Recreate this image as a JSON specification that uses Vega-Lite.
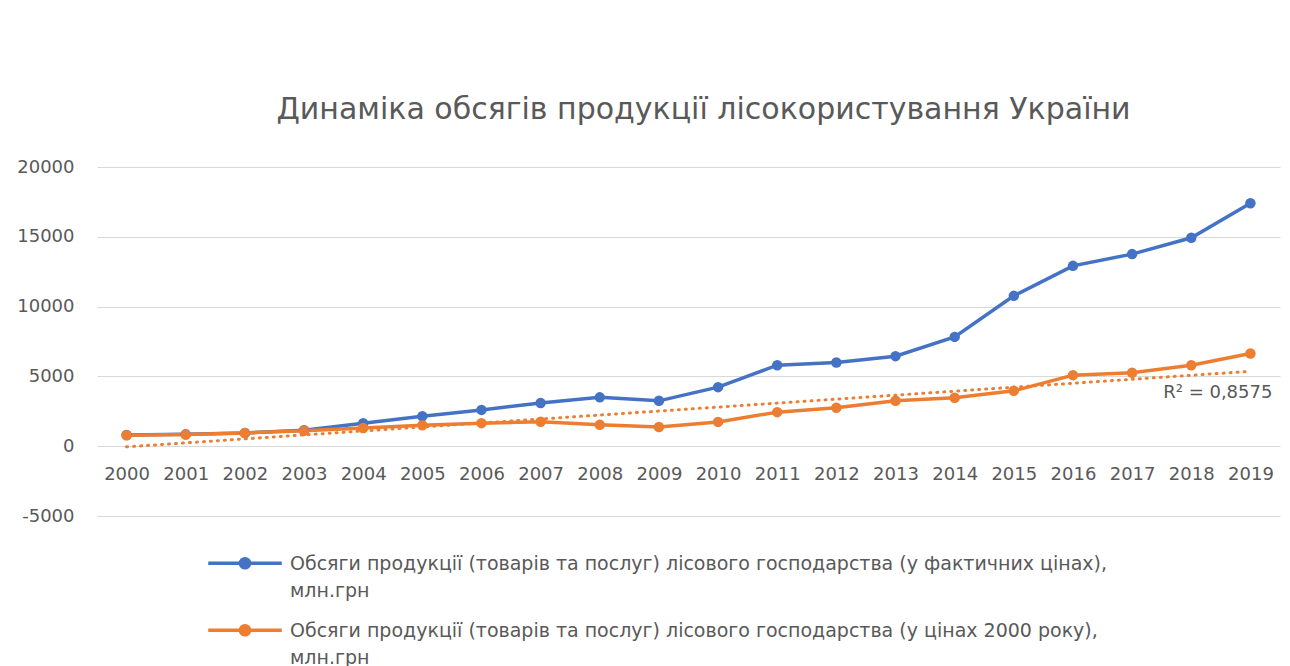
{
  "$schema": "https://vega.github.io/schema/vega-lite/v6.json",
  "autosize": {"type": "none"},
  "padding": {"left": 97, "top": 167, "right": 10, "bottom": 150},
  "width": 1183,
  "height": 349,
  "background": "white",
  "title": {
    "text": "Динаміка обсягів продукції лісокористування України",
    "font": "DejaVu Sans",
    "fontSize": 30,
    "fontWeight": "normal",
    "color": "#595959",
    "anchor": "middle",
    "offset": 33,
    "dx": 15
  },
  "data": {
    "values": [
      {"year": 2000, "fact": 800, "real": 780},
      {"year": 2001, "fact": 850, "real": 830},
      {"year": 2002, "fact": 950, "real": 950},
      {"year": 2003, "fact": 1150, "real": 1100},
      {"year": 2004, "fact": 1650, "real": 1300},
      {"year": 2005, "fact": 2150, "real": 1500},
      {"year": 2006, "fact": 2600, "real": 1650},
      {"year": 2007, "fact": 3100, "real": 1750},
      {"year": 2008, "fact": 3500, "real": 1530},
      {"year": 2009, "fact": 3250, "real": 1380},
      {"year": 2010, "fact": 4230, "real": 1740},
      {"year": 2011, "fact": 5800, "real": 2440},
      {"year": 2012, "fact": 6000, "real": 2750},
      {"year": 2013, "fact": 6450, "real": 3250},
      {"year": 2014, "fact": 7830, "real": 3470},
      {"year": 2015, "fact": 10770, "real": 3970},
      {"year": 2016, "fact": 12920, "real": 5090},
      {"year": 2017, "fact": 13760, "real": 5260},
      {"year": 2018, "fact": 14930, "real": 5800},
      {"year": 2019, "fact": 17400, "real": 6640}
    ]
  },
  "transform": [
    {"fold": ["fact", "real"], "as": ["series", "value"]}
  ],
  "encoding": {
    "x": {
      "field": "year",
      "type": "quantitative",
      "scale": {"domain": [1999.5, 2019.5], "nice": false, "zero": false},
      "axis": {
        "values": [2000,2001,2002,2003,2004,2005,2006,2007,2008,2009,2010,2011,2012,2013,2014,2015,2016,2017,2018,2019],
        "format": "d",
        "title": null,
        "grid": false,
        "domain": false,
        "ticks": false,
        "offset": -70,
        "labelPadding": 19,
        "labelFont": "DejaVu Sans",
        "labelFontSize": 18,
        "labelColor": "#595959",
        "labelFlush": false,
        "labelOverlap": false
      }
    },
    "y": {
      "field": "value",
      "type": "quantitative",
      "scale": {"domain": [-5000, 20000], "nice": false},
      "axis": {
        "values": [-5000, 0, 5000, 10000, 15000, 20000],
        "title": null,
        "labelExpr": "datum.value < 0 ? '-' + format(-datum.value, 'd') : format(datum.value, 'd')",
        "domain": false,
        "ticks": false,
        "labelPadding": 23,
        "labelFont": "DejaVu Sans",
        "labelFontSize": 18,
        "labelColor": "#595959",
        "gridColor": "#d9d9d9",
        "gridWidth": 1.2
      }
    }
  },
  "layer": [
    {
      "mark": {"type": "line", "strokeWidth": 3.5, "point": {"filled": true, "size": 110}},
      "encoding": {
        "color": {
          "field": "series",
          "type": "nominal",
          "scale": {"domain": ["fact", "real"], "range": ["#4472C4", "#ED7D31"]},
          "legend": {
            "orient": "none",
            "legendX": 146,
            "legendY": 368,
            "title": null,
            "direction": "vertical",
            "symbolType": "M-3.1,0.5H1.1M-1.26,0.5a0.26,0.26 0 1,0 0.52,0a0.26,0.26 0 1,0 -0.52,0",
            "symbolSize": 1225,
            "symbolStrokeWidth": 3.5,
            "labelFont": "DejaVu Sans",
            "labelFontSize": 19,
            "labelColor": "#595959",
            "labelLimit": 1200,
            "labelBaseline": "top",
            "labelOffset": 8,
            "rowPadding": 1,
            "labelExpr": "datum.label == 'fact' ? ['Обсяги продукції (товарів та послуг) лісового господарства (у фактичних цінах),', 'млн.грн'] : ['Обсяги продукції (товарів та послуг) лісового господарства (у цінах 2000 року),', 'млн.грн']"
          }
        }
      }
    },
    {
      "transform": [
        {"filter": "datum.series == 'real'"},
        {"regression": "value", "on": "year", "method": "linear", "extent": [2000, 2019]}
      ],
      "mark": {"type": "line", "color": "#ED7D31", "strokeWidth": 3, "strokeDash": [1, 6], "strokeCap": "round"}
    },
    {
      "data": {"values": [{"year": 2019, "value": 3800, "label": "R² = 0,8575"}]},
      "mark": {"type": "text", "align": "right", "dx": 22, "baseline": "middle", "font": "DejaVu Sans", "fontSize": 18, "color": "#595959"},
      "encoding": {"text": {"field": "label"}}
    }
  ],
  "config": {
    "view": {"stroke": null},
    "style": {"guide-label": {"lineHeight": 27}}
  }
}
